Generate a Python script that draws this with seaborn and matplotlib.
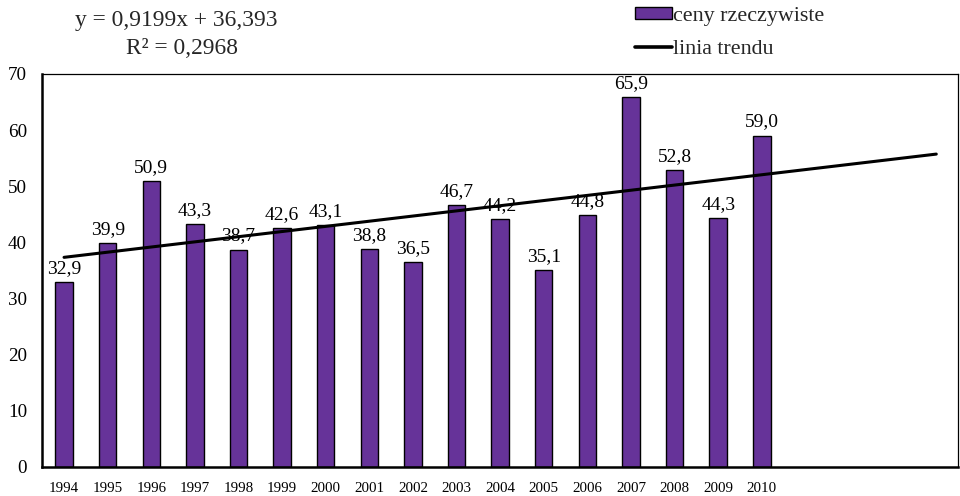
import matplotlib
matplotlib.use("Agg")
import matplotlib.pyplot as plt
import seaborn as sns
import numpy as np
import pandas as pd
from matplotlib.patches import Patch
from matplotlib.lines import Line2D

years = ["1994", "1995", "1996", "1997", "1998", "1999", "2000", "2001", "2002",
         "2003", "2004", "2005", "2006", "2007", "2008", "2009", "2010"]
prices = [32.9, 39.9, 50.9, 43.3, 38.7, 42.6, 43.1, 38.8, 36.5,
          46.7, 44.2, 35.1, 44.8, 65.9, 52.8, 44.3, 59.0]
trend_slope = 0.9199
trend_intercept = 36.393
trend_periods = 21
y_ticks = [0, 10, 20, 30, 40, 50, 60, 70]

sns.set_theme(style="white")
plt.rcParams['font.family'] = ['Liberation Serif', 'DejaVu Serif']

fig = plt.figure(figsize=(9.6, 4.96), dpi=100)
ax = fig.add_axes([0.044, 0.059, 0.954, 0.792])

df = pd.DataFrame({"rok": years, "cena": prices})
bar_color = "#663399"
sns.barplot(data=df, x="rok", y="cena", color=bar_color, saturation=1,
            width=0.40, edgecolor="black", linewidth=1.0, ax=ax)

# trend line
tx = np.arange(1, trend_periods + 1)
ty = trend_slope * tx + trend_intercept
sns.lineplot(x=tx - 1, y=ty, color="black", linewidth=2.2, ax=ax)

for i, v in enumerate(prices):
    ax.text(i, v + 0.9, f"{v:.1f}".replace(".", ","), ha="center", va="bottom",
            fontsize=14, color="black")

ax.set_xlim(-0.5, trend_periods - 0.5)
ax.set_ylim(0, 70)
ax.set_yticks(y_ticks)
ax.set_yticklabels([str(t) for t in y_ticks], fontsize=13.7)
ax.set_xticks(range(len(years)))
ax.set_xticklabels(years, fontsize=10.8)
ax.set_xlabel("")
ax.set_ylabel("")
ax.tick_params(axis="both", length=0, colors="black")
ax.tick_params(axis="x", pad=11)
ax.tick_params(axis="y", pad=11)
for side in ["left", "bottom"]:
    ax.spines[side].set_color("black")
    ax.spines[side].set_linewidth(1.8)
for side in ["top", "right"]:
    ax.spines[side].set_color("black")
    ax.spines[side].set_linewidth(0.9)
ax.grid(False)

fig.text(0.184, 0.958, "y = 0,9199x + 36,393", ha="center", va="center", fontsize=16.9)
fig.text(0.190, 0.903, "R² = 0,2968", ha="center", va="center", fontsize=16.9)

handles = [Patch(facecolor=bar_color, edgecolor="black", linewidth=1.0),
           Line2D([0], [0], color="black", linewidth=2.6)]
fig.legend(handles, ["ceny rzeczywiste", "linia trendu"], loc="upper left",
           bbox_to_anchor=(0.661, 0.986), frameon=False, fontsize=15.8,
           handlelength=1.7, handleheight=0.5, handletextpad=0.05,
           labelspacing=0.63, borderpad=0, borderaxespad=0)

fig.savefig("out.png", dpi=100)
